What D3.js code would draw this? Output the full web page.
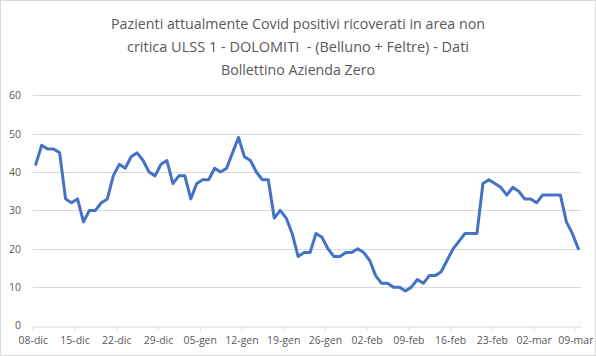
<!DOCTYPE html>
<html>
<head>
<meta charset="utf-8">
<script src="https://cdn.jsdelivr.net/npm/d3@7"></script>
<style>
  html, body { margin: 0; padding: 0; background: #ffffff; }
  svg { display: block; }
</style>
</head>
<body>
<svg id="chart" width="596" height="356"></svg>
<script>
// ---- DATA ----
const titleLines = [
  "Pazienti attualmente Covid positivi ricoverati in area non",
  "critica ULSS 1 - DOLOMITI  - (Belluno + Feltre) - Dati",
  "Bollettino Azienda Zero"
];
const startDate = "2020-12-08";
const values = [
  42, 47, 46, 46, 45, 33, 32, 33, 27, 30,
  30, 32, 33, 39, 42, 41, 44, 45, 43, 40,
  39, 42, 43, 37, 39, 39, 33, 37, 38, 38,
  41, 40, 41, 45, 49, 44, 43, 40, 38, 38,
  28, 30, 28, 24, 18, 19, 19, 24, 23, 20,
  18, 18, 19, 19, 20, 19, 17, 13, 11, 11,
  10, 10, 9, 10, 12, 11, 13, 13, 14, 17,
  20, 22, 24, 24, 24, 37, 38, 37, 36, 34,
  36, 35, 33, 33, 32, 34, 34, 34, 34, 27,
  24, 20
];
const yTicks = [0, 10, 20, 30, 40, 50, 60];
const monthAbbr = ["gen", "feb", "mar", "apr", "mag", "giu", "lug", "ago", "set", "ott", "nov", "dic"];

// ---- CHART ----
const svg = d3.select("#chart");
const W = 596, H = 356;

svg.append("rect")
  .attr("x", 0.5).attr("y", 0.5)
  .attr("width", W - 1).attr("height", H - 1)
  .attr("fill", "#ffffff").attr("stroke", "#d9d9d9");

const parse = d3.utcParse("%Y-%m-%d");
const t0 = parse(startDate);
const day = 24 * 3600 * 1000;
const data = values.map((v, i) => ({ date: new Date(t0.getTime() + i * day), value: v }));
const tEnd = new Date(t0.getTime() + values.length * day);

const x = d3.scaleUtc().domain([t0, tEnd]).range([32.8, 581.3]);
const y = d3.scaleLinear().domain([0, 60]).range([325.5, 95.3]);

const fontFam = "'Open Sans', 'Noto Sans', 'Liberation Sans', sans-serif";
const textColor = "#595959";

// gridlines
svg.append("g")
  .selectAll("line")
  .data(yTicks.filter(d => d > 0))
  .join("line")
  .attr("x1", x.range()[0]).attr("x2", x.range()[1])
  .attr("y1", d => Math.round(y(d)) + 0.5).attr("y2", d => Math.round(y(d)) + 0.5)
  .attr("stroke", "#d9d9d9").attr("stroke-width", 1);

// y axis labels
const yAxis = d3.axisLeft(y).tickValues(yTicks).tickSize(0).tickPadding(0);
const gy = svg.append("g").attr("transform", "translate(21,0)").call(yAxis);
gy.select(".domain").remove();
gy.selectAll("text")
  .attr("fill", textColor)
  .style("font-family", fontFam)
  .style("font-size", "10.5px");

// x axis
const xTickDates = d3.range(0, values.length, 7).map(i => new Date(t0.getTime() + i * day));
const fmt = d => {
  const dd = String(d.getUTCDate()).padStart(2, "0");
  return dd + "-" + monthAbbr[d.getUTCMonth()];
};
const xAxis = d3.axisBottom(x).tickValues(xTickDates).tickFormat(fmt).tickSize(4).tickSizeOuter(0).tickPadding(6);
const gx = svg.append("g").attr("transform", `translate(0,${Math.round(y(0)) + 0.5})`).call(xAxis);
gx.select(".domain").attr("stroke", "#d9d9d9");
gx.selectAll(".tick line").attr("stroke", "#d9d9d9");
gx.selectAll("text")
  .attr("fill", textColor)
  .style("font-family", fontFam)
  .style("font-size", "10.5px");

// line
const line = d3.line()
  .x(d => x(new Date(d.date.getTime() + day / 2)))
  .y(d => y(d.value));
svg.append("path")
  .datum(data)
  .attr("d", line)
  .attr("fill", "none")
  .attr("stroke", "#4472c4")
  .attr("stroke-width", 3)
  .attr("stroke-linejoin", "round")
  .attr("stroke-linecap", "round");

// title
const titleWidths = [374, 342, 154];
const titleY = [29, 52, 75];
const tg = svg.append("g");
titleLines.forEach((t, i) => {
  const el = tg.append("text")
    .attr("x", W / 2)
    .attr("y", titleY[i])
    .attr("text-anchor", "middle")
    .attr("fill", textColor)
    .style("font-family", fontFam)
    .style("font-size", "16px")
    .style("white-space", "pre")
    .text(t);
  const w = el.node().getComputedTextLength();
  if (w > 0) el.style("font-size", (16 * titleWidths[i] / w).toFixed(2) + "px");
});
</script>
</body>
</html>
